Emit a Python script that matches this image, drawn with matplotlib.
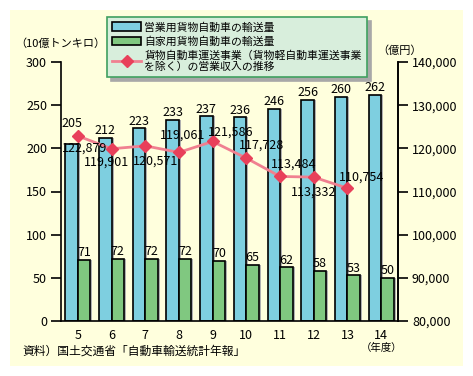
import matplotlib.pyplot as plt
from matplotlib.patches import Patch, Rectangle
from matplotlib.lines import Line2D

plt.rcParams['font.family'] = ['Noto Sans CJK JP', 'DejaVu Sans']

# データ
nendo = ["5", "6", "7", "8", "9", "10", "11", "12", "13", "14"]
eigyo = [205, 212, 223, 233, 237, 236, 246, 256, 260, 262]
jika = [71, 72, 72, 72, 70, 65, 62, 58, 53, 50]
shunyu = [122879, 119901, 120571, 119061, 121586, 117728, 113484, 113332, 110754]

# 収入ラベルの位置（ピクセル単位のずれ）
shunyu_offsets = [(7, -12), (-5, -13), (10, -15), (4, 17), (18, 9),
                  (15, 13), (14, 12), (0, -15), (14, 11)]

c_blue = "#7ECFE0"
c_green = "#80C880"
c_shadow = "#B0B0B0"
c_line = "#F08090"
c_marker = "#E8405A"
c_bg = "#FFFFDD"

fig = plt.figure(figsize=(4.73, 3.76), dpi=100)
fig.patches.append(Rectangle((10 / 473, 10 / 376), 453 / 473, 356 / 376,
                             transform=fig.transFigure, facecolor=c_bg,
                             edgecolor="none", zorder=-10))

ax = fig.add_axes([61 / 473, 1 - 321 / 376, 337 / 473, 259 / 376])
ax.set_facecolor("none")
ax2 = ax.twinx()

x = list(range(len(nendo)))
w = 0.37
sh = 0.06

# 影
ax.bar([i - w / 2 + sh for i in x], eigyo, w, color=c_shadow, zorder=1)
ax.bar([i + w / 2 + sh for i in x], jika, w, color=c_shadow, zorder=1)
# 棒
ax.bar([i - w / 2 for i in x], eigyo, w, color=c_blue, edgecolor="black",
       linewidth=1.2, zorder=2)
ax.bar([i + w / 2 for i in x], jika, w, color=c_green, edgecolor="black",
       linewidth=1.2, zorder=2)

for i in x:
    dy = 21 if i == 0 else 7
    ax.annotate(str(eigyo[i]), (i - w / 2, eigyo[i]), xytext=(0, dy),
                textcoords="offset pixels", ha="center", va="center",
                fontsize=9, zorder=5)
    ax.annotate(str(jika[i]), (i + w / 2, jika[i]), xytext=(0, 7),
                textcoords="offset pixels", ha="center", va="center",
                fontsize=9, zorder=5)

ax.set_xlim(-0.5, len(nendo) - 0.5)
ax.set_ylim(0, 300)
ax.set_yticks(range(0, 301, 50))
ax.set_xticks(x)
ax.set_xticklabels(nendo)
ax.tick_params(axis="x", length=0, labelsize=9, pad=6)
ax.tick_params(axis="y", length=7, width=1.2, labelsize=9, pad=3)
ax.spines["top"].set_visible(False)
for s in ["left", "right", "bottom"]:
    ax.spines[s].set_linewidth(1.2)

ax2.set_ylim(80000, 140000)
ax2.set_yticks(range(80000, 140001, 10000))
ax2.set_yticklabels([f"{v:,}" for v in range(80000, 140001, 10000)])
ax2.tick_params(axis="y", length=7, width=1.2, labelsize=9, pad=3)
for s in ["top", "left", "bottom"]:
    ax2.spines[s].set_visible(False)
ax2.spines["right"].set_linewidth(1.2)

ax2.plot(x[:len(shunyu)], shunyu, color=c_line, linewidth=2, marker="D",
         markersize=6, markerfacecolor=c_marker, markeredgecolor=c_marker,
         zorder=4)
for i, v in enumerate(shunyu):
    ax2.annotate(f"{v:,}", (i, v), xytext=shunyu_offsets[i],
                 textcoords="offset pixels", ha="center", va="center",
                 fontsize=9, zorder=6)

fig.text(15 / 473, 1 - 44 / 376, "（10億トンキロ）", fontsize=8, va="center")
fig.text(400 / 473, 1 - 51 / 376, "（億円）", fontsize=8, va="center",
         ha="center")
fig.text(382 / 473, 1 - 348 / 376, "（年度）", fontsize=7.5, va="center",
         ha="center")
fig.text(22 / 473, 1 - 351 / 376, "資料）国土交通省「自動車輸送統計年報」",
         fontsize=8.5, va="center")

handles = [
    Patch(facecolor=c_blue, edgecolor="black", linewidth=1.2),
    Patch(facecolor=c_green, edgecolor="black", linewidth=1.2),
    Line2D([], [], color=c_line, linewidth=2, marker="D", markersize=6,
           markerfacecolor=c_marker, markeredgecolor=c_marker),
]
labels = [
    "営業用貨物自動車の輸送量",
    "自家用貨物自動車の輸送量",
    "貨物自動車運送事業（貨物軽自動車運送事業\nを除く）の営業収入の推移",
]
leg = fig.legend(handles, labels, loc="upper left",
                 bbox_to_anchor=(107 / 473, 1 - 17 / 376), fontsize=7.8,
                 frameon=True, fancybox=False, handlelength=2.7,
                 handleheight=0.8, labelspacing=0.35, borderpad=0.45,
                 handletextpad=0.3, borderaxespad=0,
                 shadow={"color": "#A8A8A8", "alpha": 1, "ox": 3, "oy": -3})
for t in leg.get_texts():
    t.set_linespacing(1.15)
leg.get_frame().set_facecolor("#D8EEDC")
leg.get_frame().set_edgecolor("#40A060")
leg.get_frame().set_linewidth(1.2)
leg.get_frame().set_alpha(1)
leg.set_zorder(10)

fig.savefig("out.png", dpi=100)
